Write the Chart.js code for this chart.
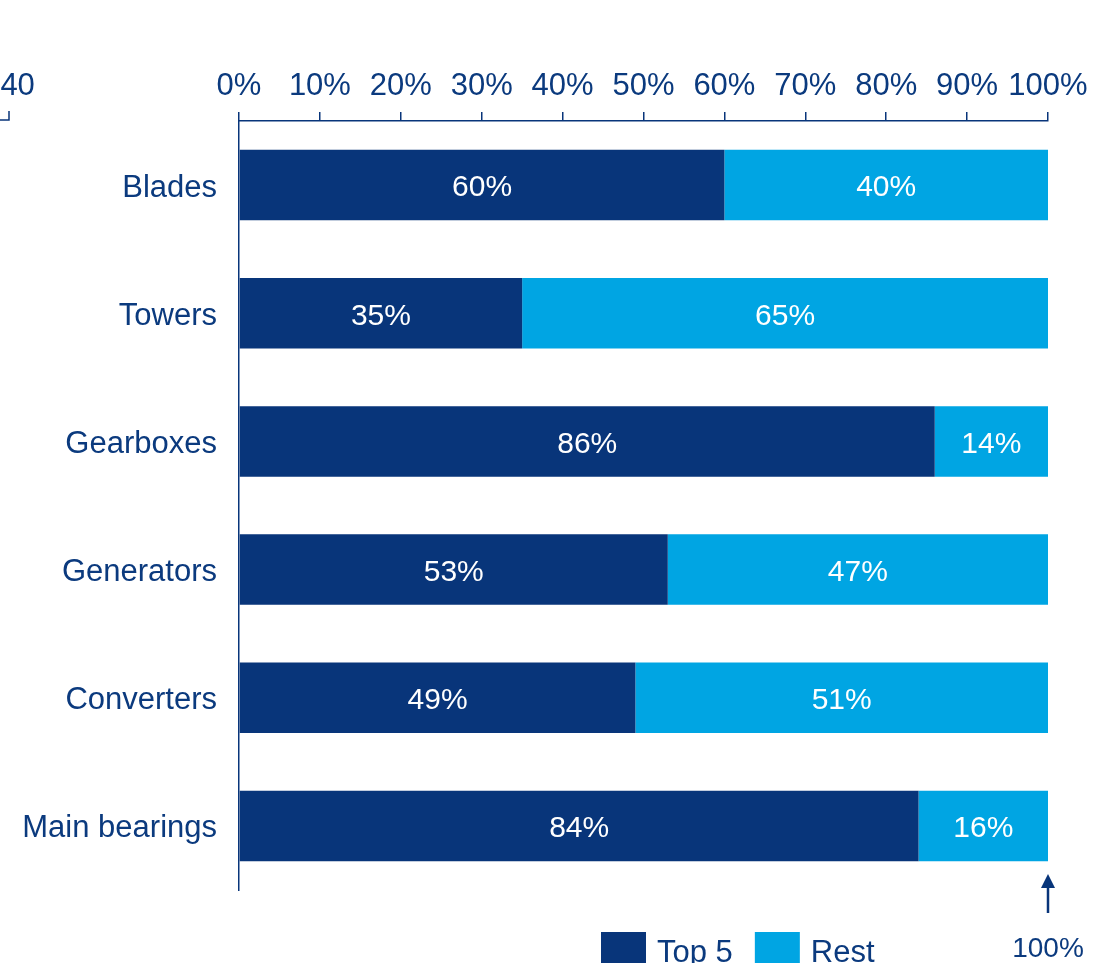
<!DOCTYPE html>
<html>
<head>
    <title>Top 5 share by component</title>
    <script src="https://cdn.jsdelivr.net/npm/chart.js"></script>
    <style>
        html, body { margin: 0; padding: 0; background: #fff; overflow: hidden; }
    </style>
</head>
<body>
    <canvas id="shareChart" width="1094" height="963"></canvas>

    <script>
    // Chart data
    const components = ['Blades', 'Towers', 'Gearboxes', 'Generators', 'Converters', 'Main bearings'];
    const top5Share = [60, 35, 86, 53, 49, 84];
    const restShare = [40, 65, 14, 47, 51, 16];
    const seriesNames = ['Top 5', 'Rest'];
    const xTicks = [0, 10, 20, 30, 40, 50, 60, 70, 80, 90, 100];

    const navy = '#08357a';
    const cyan = '#00a5e3';
    const textColor = '#0b3a7e';
    const fontFamily = '"Liberation Sans", Arial, sans-serif';

    // white % labels in the middle of every bar segment
    const segmentLabels = {
        id: 'segmentLabels',
        afterDatasetsDraw(chart) {
            const ctx = chart.ctx;
            ctx.save();
            ctx.fillStyle = '#ffffff';
            ctx.font = '30px ' + fontFamily;
            ctx.textAlign = 'center';
            ctx.textBaseline = 'middle';
            chart.data.datasets.forEach((ds, di) => {
                chart.getDatasetMeta(di).data.forEach((bar, i) => {
                    const cx = (bar.x + bar.base) / 2;
                    ctx.fillText(ds.data[i] + '%', cx, bar.y + 3);
                });
            });
            ctx.restore();
        }
    };

    // arrow under the 100% end, bit of the neighbouring axis, and legend
    const extras = {
        id: 'extras',
        afterDraw(chart) {
            const ctx = chart.ctx;
            const x = chart.scales.x;
            const area = chart.chartArea;
            ctx.save();

            // arrow pointing at 100%
            const ax = x.getPixelForValue(100);
            const tipY = area.bottom - 16;
            ctx.fillStyle = navy;
            ctx.strokeStyle = navy;
            ctx.lineWidth = 2.5;
            ctx.beginPath();
            ctx.moveTo(ax, tipY + 10);
            ctx.lineTo(ax, tipY + 39);
            ctx.stroke();
            ctx.beginPath();
            ctx.moveTo(ax, tipY);
            ctx.lineTo(ax - 7, tipY + 14);
            ctx.lineTo(ax + 7, tipY + 14);
            ctx.closePath();
            ctx.fill();
            ctx.fillStyle = textColor;
            ctx.font = '28px ' + fontFamily;
            ctx.textAlign = 'center';
            ctx.textBaseline = 'middle';
            ctx.fillText('100%', ax, tipY + 75);

            // cut-off axis of the panel on the left
            ctx.lineWidth = 1.5;
            ctx.beginPath();
            ctx.moveTo(0, area.top - 1);
            ctx.lineTo(9, area.top - 1);
            ctx.lineTo(9, area.top - 10);
            ctx.stroke();
            ctx.font = '31px ' + fontFamily;
            ctx.fillText('140', 9, 86);

            // legend
            ctx.textAlign = 'left';
            ctx.textBaseline = 'alphabetic';
            let lx = 601;
            chart.data.datasets.forEach(ds => {
                ctx.fillStyle = ds.backgroundColor;
                ctx.fillRect(lx, 932, 45, 40);
                ctx.fillStyle = textColor;
                ctx.fillText(ds.label, lx + 56, 962);
                lx += 56 + ctx.measureText(ds.label).width + 22;
            });
            ctx.restore();
        }
    };

    new Chart(document.getElementById('shareChart').getContext('2d'), {
        type: 'bar',
        data: {
            labels: components,
            datasets: [{
                label: seriesNames[0],
                data: top5Share,
                backgroundColor: navy,
                barPercentage: 0.55,
                categoryPercentage: 1
            }, {
                label: seriesNames[1],
                data: restShare,
                backgroundColor: cyan,
                barPercentage: 0.55,
                categoryPercentage: 1
            }]
        },
        options: {
            indexAxis: 'y',
            responsive: false,
            animation: false,
            layout: { padding: { right: 46, bottom: 73 } },
            plugins: {
                legend: { display: false },
                tooltip: { enabled: false }
            },
            scales: {
                x: {
                    position: 'top',
                    stacked: true,
                    min: 0,
                    max: 100,
                    afterBuildTicks: scale => { scale.ticks = xTicks.map(v => ({ value: v })); },
                    afterFit: scale => {
                        scale.height = 121;
                        scale.paddingLeft = 0;
                        scale.paddingRight = 0;
                    },
                    ticks: {
                        padding: 7,
                        color: textColor,
                        font: { family: fontFamily, size: 31 },
                        maxRotation: 0,
                        autoSkip: false,
                        callback: v => v + '%'
                    },
                    grid: {
                        drawOnChartArea: false,
                        tickLength: 9,
                        color: navy,
                        lineWidth: 1.5
                    },
                    border: { display: true, color: navy, width: 1.5 }
                },
                y: {
                    stacked: true,
                    afterFit: scale => { scale.width = 239; },
                    ticks: {
                        padding: 22,
                        labelOffset: 3,
                        color: textColor,
                        font: { family: fontFamily, size: 31 }
                    },
                    grid: { display: false, drawTicks: false },
                    border: { display: true, color: navy, width: 1.5 }
                }
            }
        },
        plugins: [segmentLabels, extras]
    });
    </script>
</body>
</html>
